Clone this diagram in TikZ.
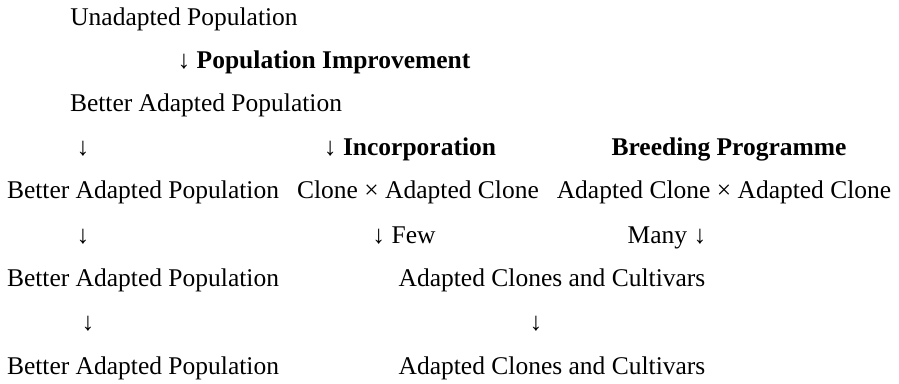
\documentclass[tikz,border=0pt]{standalone}
\usepackage{fontspec}
\setmainfont{Liberation Serif}
\usepackage{tikz}
\usetikzlibrary{positioning}

\begin{document}
\begin{tikzpicture}[x=0.5pt, y=-0.5pt, every node/.style={inner sep=0pt, anchor=base, font=\fontsize{12.75}{15}\selectfont}, hd/.style={font=\fontsize{12.75}{15}\selectfont\bfseries}]
    \useasboundingbox (0,0) rectangle (899,384);
    \node (unad) at (184,26) {Unadapted Population};
    \node (popimp) at (324,69) {↓ \textbf{Population Improvement}};
    \node (bap1) at (206,112) {Better Adapted Population};
    \node (arr1) at (83,156) {↓};
    \node (incorp) at (410,156) {↓ \textbf{Incorporation}};
    \node [hd] (breed) at (729,156) {Breeding Programme};
    \node (bap2) at (143,199) {Better Adapted Population};
    \node (cross1) at (418,199) {Clone × Adapted Clone};
    \node (cross2) at (724,199) {Adapted Clone × Adapted Clone};
    \node (arr2) at (83,244) {↓};
    \node (few) at (404,244) {↓ Few};
    \node (many) at (667,244) {Many ↓};
    \node (bap3) at (143,287) {Better Adapted Population};
    \node (acc1) at (552,287) {Adapted Clones and Cultivars};
    \node (arr3) at (88,331) {↓};
    \node (arr4) at (536,331) {↓};
    \node (bap4) at (143,375) {Better Adapted Population};
    \node (acc2) at (552,375) {Adapted Clones and Cultivars};
\end{tikzpicture}
\end{document}
